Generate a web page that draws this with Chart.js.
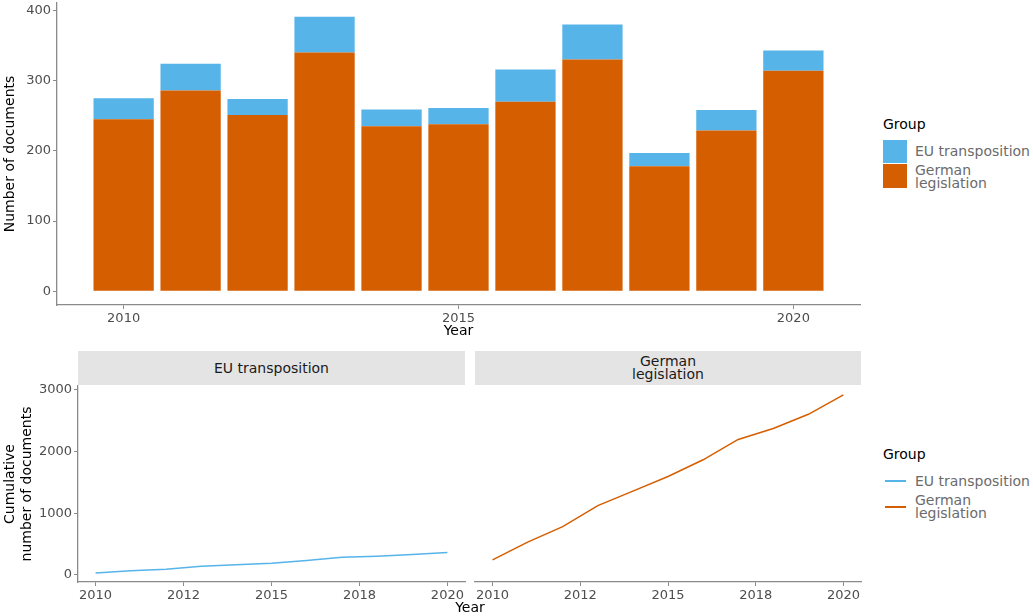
<!DOCTYPE html>
<html>
<head>
<meta charset="utf-8">
<script src="https://cdn.jsdelivr.net/npm/chart.js@4.4.0/dist/chart.umd.min.js"></script>
<style>
  body { margin: 0; width: 1033px; height: 616px; position: relative; background: #fff; overflow: hidden;
         font-family: "DejaVu Sans", sans-serif; }
  canvas { position: absolute; }
  .strip { position: absolute; top: 351px; height: 34px; background: #e4e4e4; color: #1a1a1a;
           display: flex; align-items: center; justify-content: center; text-align: center;
           font-size: 14px; line-height: 13px; }
  .txt { position: absolute; white-space: nowrap; }
  .lgTitle { font-size: 14px; color: #000; }
  .lgLabel { font-size: 14px; line-height: 13px; color: #6b6b6b; }
  .key { position: absolute; }
</style>
</head>
<body>
<canvas id="barChart" width="870" height="352" style="left:0;top:-7px"></canvas>
<canvas id="cumEU" width="470" height="276" style="left:0;top:340px"></canvas>
<canvas id="cumDE" width="400" height="276" style="left:470px;top:340px"></canvas>

<div class="strip" style="left:78px;width:387px">EU transposition</div>
<div class="strip" style="left:475px;width:386px">German<br>legislation</div>
<div class="txt" style="left:470px;top:599px;transform:translateX(-50%);font-size:14px;color:#000">Year</div>

<!-- legend, top -->
<div class="txt lgTitle" style="left:883px;top:116px">Group</div>
<div class="key" style="left:883px;top:140px;width:24px;height:23px;background:#56B4E9"></div>
<div class="key" style="left:883px;top:164px;width:24px;height:24px;background:#D55E00"></div>
<div class="txt lgLabel" style="left:915px;top:145px">EU transposition</div>
<div class="txt lgLabel" style="left:915px;top:164px">German<br>legislation</div>

<!-- legend, bottom -->
<div class="txt lgTitle" style="left:883px;top:446px">Group</div>
<div class="key" style="left:885px;top:480px;width:21px;height:1.5px;background:#56B4E9"></div>
<div class="key" style="left:885px;top:506px;width:21px;height:1.5px;background:#D55E00"></div>
<div class="txt lgLabel" style="left:915px;top:475px">EU transposition</div>
<div class="txt lgLabel" style="left:915px;top:494px">German<br>legislation</div>

<script>
// values
const years = [2010, 2011, 2012, 2013, 2014, 2015, 2016, 2017, 2018, 2019, 2020];
const germanDocs = [245, 286, 251, 340, 235, 238, 270, 330, 178, 229, 314];
const euDocs = [30, 38, 23, 51, 24, 23, 46, 50, 19, 29, 29];
const euCumulative = [30, 68, 91, 142, 166, 189, 235, 285, 304, 333, 362];
const germanCumulative = [245, 531, 782, 1122, 1357, 1595, 1865, 2195, 2373, 2602, 2916];

const barXTicks = [2010, 2015, 2020];
const barYTicks = [0, 100, 200, 300, 400];
const cumXTicks = [2010, 2012.5, 2015, 2017.5, 2020];
const cumXLabels = ["2010", "2012", "2015", "2018", "2020"];
const cumYTicks = [0, 1000, 2000, 3000];

const BLUE = "#56B4E9";
const ORANGE = "#D55E00";
const AXIS = "#8a8a8a";
const TICKTXT = "#4d4d4d";
const FONT = "DejaVu Sans";

Chart.defaults.font.family = FONT;

function setTicks(list) {
  return (scale) => { scale.ticks = list.map((v) => ({ value: v })); };
}

function axisBase(tickList, labelFn) {
  return {
    type: "linear",
    offset: false,
    afterBuildTicks: setTicks(tickList),
    grid: { display: true, offset: false, drawOnChartArea: false, drawTicks: true, tickLength: 4, color: AXIS, lineWidth: 1 },
    border: { display: true, color: AXIS, width: 1.3 },
    ticks: { font: { size: 13 }, color: TICKTXT, padding: 2, maxRotation: 0, autoSkip: false, callback: labelFn },
  };
}

const pairs = (vals) => years.map((y, i) => ({ x: y, y: vals[i] }));

// stacked bars
new Chart(document.getElementById("barChart"), {
  type: "bar",
  data: {
    datasets: [
      { label: "German legislation", data: pairs(germanDocs), backgroundColor: ORANGE, barPercentage: 0.9, categoryPercentage: 1 },
      { label: "EU transposition", data: pairs(euDocs), backgroundColor: BLUE, barPercentage: 0.9, categoryPercentage: 1 },
    ],
  },
  options: {
    responsive: false,
    animation: false,
    layout: { autoPadding: false, padding: { top: 10, right: 10, left: 0, bottom: 0 } },
    plugins: { legend: { display: false }, tooltip: { enabled: false } },
    scales: {
      x: {
        ...axisBase(barXTicks, (v) => String(v)),
        stacked: true,
        min: 2009.005,
        max: 2020.995,
        title: { display: true, text: "Year", color: "#000", font: { size: 14 }, padding: { top: 0, bottom: 5 } },
        afterFit: (s) => { s.height = 40; },
      },
      y: {
        ...axisBase(barYTicks, (v) => String(v)),
        stacked: true,
        min: -19.55,
        max: 410.55,
        title: { display: true, text: "Number of documents", color: "#000", font: { size: 14 }, padding: { top: 2, bottom: 0 } },
        afterFit: (s) => { s.width = 57; },
      },
    },
  },
});

function cumChart(id, vals, color, withY, padLeft, padRight) {
  return new Chart(document.getElementById(id), {
    type: "line",
    data: { datasets: [{ data: pairs(vals), borderColor: color, borderWidth: 1.5, pointRadius: 0, tension: 0, fill: false }] },
    options: {
      responsive: false,
      animation: false,
      layout: { autoPadding: false, padding: { top: 46, right: padRight, left: padLeft, bottom: 0 } },
      plugins: { legend: { display: false }, tooltip: { enabled: false } },
      scales: {
        x: {
          ...axisBase(cumXTicks, (v, i) => cumXLabels[i]),
          min: 2009.5,
          max: 2020.5,
          afterFit: (s) => { s.height = 34; },
        },
        y: withY
          ? {
              ...axisBase(cumYTicks, (v) => String(v)),
              min: -114.3,
              max: 3060.3,
              title: { display: true, text: ["Cumulative", "number of documents"], color: "#000", font: { size: 14 }, padding: { top: 2, bottom: 0 } },
              afterFit: (s) => { s.width = 78; },
            }
          : { type: "linear", display: false, min: -114.3, max: 3060.3 },
      },
    },
  });
}

cumChart("cumEU", euCumulative, BLUE, true, 0, 5);
cumChart("cumDE", germanCumulative, ORANGE, false, 5, 9);
</script>
</body>
</html>
